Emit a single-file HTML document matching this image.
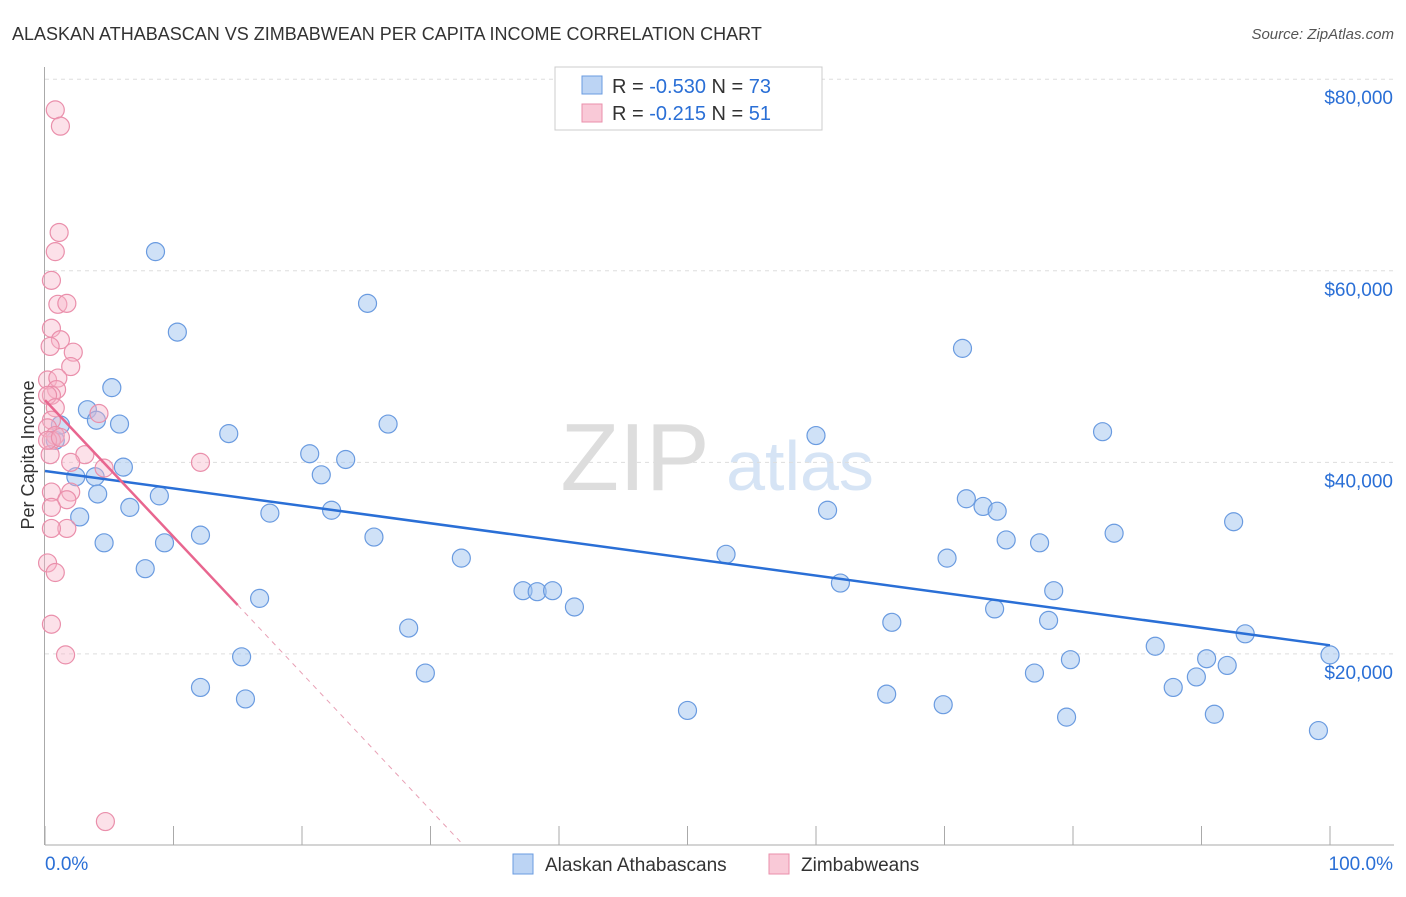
<!DOCTYPE html>
<html><head><meta charset="utf-8"><style>
body{margin:0;background:#fff;font-family:"Liberation Sans",sans-serif}
svg text{font-family:"Liberation Sans",sans-serif}
</style></head><body>
<svg id="c" width="1406" height="892">
<text x="12" y="40" font-size="18" fill="#333">ALASKAN ATHABASCAN VS ZIMBABWEAN PER CAPITA INCOME CORRELATION CHART</text>
<text x="1394" y="39" font-size="15" fill="#555" font-style="italic" text-anchor="end">Source: ZipAtlas.com</text>
<text x="635" y="490" font-size="96" fill="#ddd" font-family="Liberation Serif" text-anchor="middle">ZIP</text>
<text x="800" y="490" font-size="70" fill="#d6e4f5" text-anchor="middle">atlas</text>
<text transform="translate(34,455) rotate(-90)" font-size="18" fill="#333" text-anchor="middle">Per Capita Income</text>
<g id="grid"></g><g id="pts"></g><g id="lines"></g>
<g>
<rect x="555" y="67" width="267" height="63" fill="#fff" stroke="#ccc"/>
<rect x="582" y="76" width="20" height="18" fill="#bcd4f4" stroke="#6a9be0"/>
<rect x="582" y="104" width="20" height="18" fill="#f9c9d7" stroke="#ea8fab"/>
<text x="612" y="93" font-size="20" fill="#333">R = <tspan fill="#2a6fd6">-0.530</tspan>   N = <tspan fill="#2a6fd6">73</tspan></text>
<text x="612" y="120" font-size="20" fill="#333">R =  <tspan fill="#2a6fd6">-0.215</tspan>   N =  <tspan fill="#2a6fd6">51</tspan></text>
</g>
<g>
<rect x="513" y="854" width="20" height="20" fill="#bcd4f4" stroke="#6a9be0"/>
<text x="545" y="871" font-size="19" fill="#333">Alaskan Athabascans</text>
<rect x="769" y="854" width="20" height="20" fill="#f9c9d7" stroke="#ea8fab"/>
<text x="801" y="871" font-size="19" fill="#333">Zimbabweans</text>
</g>
</svg>
<script>
const blueX=[8.6,10.3,25.1,71.4,5.2,3.3,4.0,5.8,0.8,1.2,14.3,26.7,60.0,82.3,20.6,23.4,6.1,3.9,21.5,2.4,4.1,8.9,71.7,73.0,6.6,17.5,22.3,60.9,74.1,2.7,92.5,12.1,83.2,25.6,74.8,77.4,4.6,9.3,53.0,32.4,70.2,7.8,61.9,37.2,38.3,39.5,78.5,16.7,41.2,73.9,65.9,78.1,28.3,93.4,86.4,15.3,79.8,90.4,100,92.0,77.0,29.6,89.6,12.1,87.8,65.5,15.6,69.9,50.0,91.0,79.5,99.1];
const blueY=[62000,53600,56600,51900,47800,45500,44400,44000,42300,43900,43000,44000,42800,43200,40900,40300,39500,38500,38700,38500,36700,36500,36200,35400,35300,34700,35000,35000,34900,34300,33800,32400,32600,32200,31900,31600,31600,31600,30400,30000,30000,28900,27400,26600,26500,26600,26600,25800,24900,24700,23300,23500,22700,22100,20800,19700,19400,19500,19900,18800,18000,18000,17600,16500,16500,15800,15300,14700,14100,13700,13400,12000];
const pinkX=[0.8,1.2,1.1,0.8,0.5,1.0,1.7,0.5,1.2,0.4,2.2,2.0,0.2,1.0,0.9,0.5,0.2,0.8,4.2,0.5,0.2,0.8,0.5,3.1,2.0,12.1,4.6,0.4,0.5,2.0,1.7,0.5,1.7,0.5,0.2,0.8,0.5,1.6,4.7,0.2,1.2];
const pinkY=[76800,75100,64000,62000,59000,56500,56600,54000,52800,52100,51500,50000,48600,48800,47600,47000,47000,45700,45100,44400,43600,42800,42300,40800,40000,40000,39400,40800,36900,36900,36100,35300,33100,33100,29500,28500,23100,19900,2500,42300,42600];
const yTicks=[20000,40000,60000,80000];
const yTickLabels=["$20,000","$40,000","$60,000","$80,000"];
const xTickVals=[0,10,20,30,40,50,60,70,80,90,100];
const blueTrend=[39100,20900];
const pinkTrend=[46500,25100];
const NS="http://www.w3.org/2000/svg";
const X=v=>45+v*12.85, Y=v=>845.5-v/104.4;
function mk(p,t,a){const e=document.createElementNS(NS,t);for(const k in a)e.setAttribute(k,a[k]);document.getElementById(p).appendChild(e);return e;}
const g=document.getElementById('grid');
yTicks.forEach((v,i)=>{
 const l=mk('grid','line',{x1:45,x2:1394,y1:Y(v),y2:Y(v),stroke:'#ddd','stroke-dasharray':'4,4'});
 
 
 const t=mk('grid','text',{x:1393,y:Y(v)+25,'font-size':19,fill:'#2a6fd6','text-anchor':'end'});
 t.textContent=yTickLabels[i];
 
 
});
const ax=mk('grid','line',{x1:45,x2:1394,y1:845,y2:845,stroke:'#aaa'});


const ay=mk('grid','line',{x1:44.5,x2:44.5,y1:67,y2:845,stroke:'#aaa'});


xTickVals.forEach(v=>{
 const t=mk('grid','line',{x1:X(v),x2:X(v),y1:826,y2:845,stroke:'#aaa'});
 
 
});
const x0=mk('grid','text',{x:45,y:870,'font-size':19,fill:'#2a6fd6'});x0.textContent='0.0%';


const x1=mk('grid','text',{x:1393,y:870,'font-size':19,fill:'#2a6fd6','text-anchor':'end'});x1.textContent='100.0%';


blueX.forEach((v,i)=>{
 const c=mk('pts','circle',{cx:X(v),cy:Y(blueY[i]),r:9,fill:'rgba(160,195,240,0.5)',stroke:'#6a9be0','stroke-width':1.2});
 
 
});
pinkX.forEach((v,i)=>{
 const c=mk('pts','circle',{cx:X(v),cy:Y(pinkY[i]),r:9,fill:'rgba(248,180,200,0.4)',stroke:'#ea8fab','stroke-width':1.2});
 
 
});
const bl=mk('lines','line',{x1:X(0),y1:Y(blueTrend[0]),x2:X(100),y2:Y(blueTrend[1]),stroke:'#2a6fd6','stroke-width':2.5});


const ps=(pinkTrend[1]-pinkTrend[0])/15;
const pl=mk('lines','line',{x1:X(0),y1:Y(pinkTrend[0]),x2:X(15),y2:Y(pinkTrend[1]),stroke:'#e8668f','stroke-width':2.5});


const xz=-pinkTrend[0]/ps;
const pd=mk('lines','line',{x1:X(15),y1:Y(pinkTrend[1]),x2:X(xz),y2:Y(0),stroke:'#e8a0b5','stroke-width':1,'stroke-dasharray':'5,5'});


</script>
</body></html>
